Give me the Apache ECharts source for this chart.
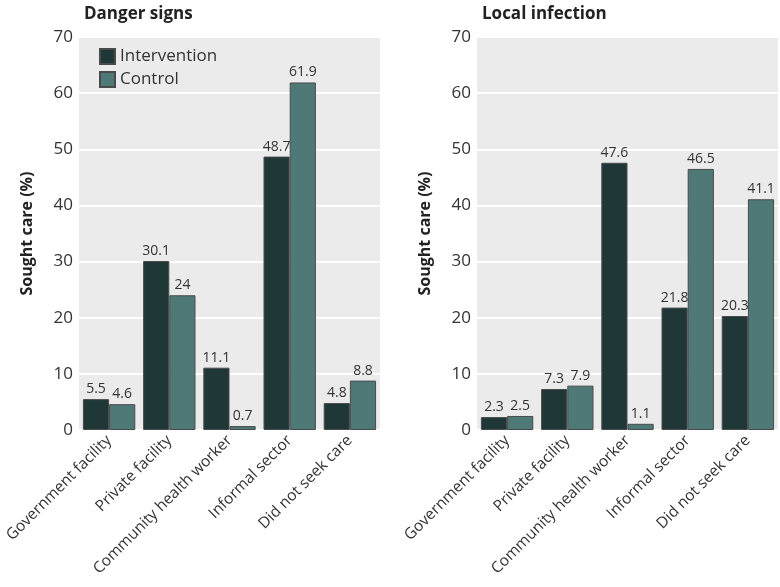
<!DOCTYPE html>
<html><head><meta charset="utf-8">
<script src="https://cdn.jsdelivr.net/npm/echarts@6/dist/echarts.min.js"></script>
<style>html,body{margin:0;padding:0;background:#fff}#c{width:780px;height:587px}</style>
</head><body><div id="c"></div>
<script>
const categories = ["Government facility","Private facility","Community health worker","Informal sector","Did not seek care"];
const dangerIntervention = [5.5,30.1,11.1,48.7,4.8];
const dangerControl = [4.6,24,0.7,61.9,8.8];
const localIntervention = [2.3,7.3,47.6,21.8,20.3];
const localControl = [2.5,7.9,1.1,46.5,41.1];
const titles = ["Danger signs","Local infection"];
const yTicks = {min:0,max:70,interval:10};

const FONT = "Open Sans";
const cI = "#1f3837", cC = "#4e7977";
const chart = echarts.init(document.getElementById('c'));
function xAxis(i){return {type:'category',gridIndex:i,data:categories,axisTick:{show:false},axisLine:{show:false},
  axisLabel:{rotate:45,interval:0,color:'#333',fontSize:15.5,fontFamily:FONT,margin:8}};}
function yAxis(i){return {type:'value',gridIndex:i,min:yTicks.min,max:yTicks.max,interval:yTicks.interval,
  name:'Sought care (%)',nameLocation:'middle',nameGap:44,nameTextStyle:{fontSize:16,fontWeight:'bold',color:'#222',fontFamily:FONT},
  axisLabel:{color:'#333',fontSize:17,fontFamily:FONT,margin:6},axisLine:{show:false},axisTick:{show:false},
  splitLine:{lineStyle:{color:'#fff',width:2}}};}
function bar(name,data,color,i){return {name,type:'bar',xAxisIndex:i,yAxisIndex:i,data,barGap:'0%',barCategoryGap:'13%',
  itemStyle:{color,borderColor:'#4a4a4a',borderWidth:1},
  label:{show:true,position:'top',color:'#333',fontSize:14,fontFamily:FONT,distance:3}};}
chart.setOption({
  animation:false,
  textStyle:{fontFamily:FONT},
  title:[{text:titles[0],left:79,top:1,textStyle:{fontSize:17,fontWeight:'bold',color:'#222',fontFamily:FONT}},
         {text:titles[1],left:477,top:1,textStyle:{fontSize:17,fontWeight:'bold',color:'#222',fontFamily:FONT}}],
  legend:{left:94,top:43,orient:'vertical',itemWidth:15,itemHeight:15,itemGap:6,icon:'rect',
    textStyle:{fontSize:17,color:'#333',fontFamily:FONT},data:['Intervention','Control']},
  grid:[{left:79,right:400,top:37,bottom:157,show:true,backgroundColor:'#ebebeb',borderWidth:0},
        {left:477,right:2,top:37,bottom:157,show:true,backgroundColor:'#ebebeb',borderWidth:0}],
  xAxis:[xAxis(0),xAxis(1)],
  yAxis:[yAxis(0),yAxis(1)],
  series:[bar('Intervention',dangerIntervention,cI,0),bar('Control',dangerControl,cC,0),
          bar('Intervention',localIntervention,cI,1),bar('Control',localControl,cC,1)]
});
</script></body></html>
